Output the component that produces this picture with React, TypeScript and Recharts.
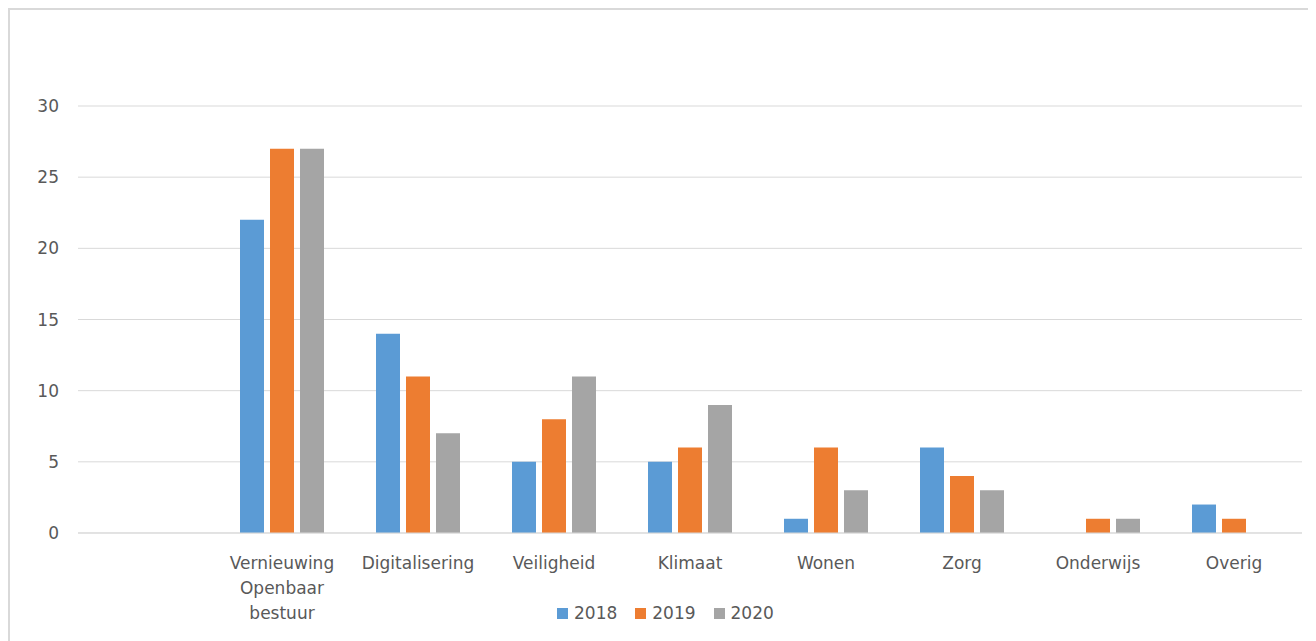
import React from 'react'
import { BarChart, Bar, XAxis, YAxis, CartesianGrid, Legend } from 'recharts'

const categories = ['', 'Vernieuwing Openbaar bestuur', 'Digitalisering', 'Veiligheid', 'Klimaat', 'Wonen', 'Zorg', 'Onderwijs', 'Overig']
const values2018 = [null, 22, 14, 5, 5, 1, 6, null, 2]
const values2019 = [null, 27, 11, 8, 6, 6, 4, 1, 1]
const values2020 = [null, 27, 7, 11, 9, 3, 3, 1, null]
const yTicks = [0, 5, 10, 15, 20, 25, 30]

const series = [
  { key: '2018', values: values2018, color: '#5b9bd5' },
  { key: '2019', values: values2019, color: '#ed7d31' },
  { key: '2020', values: values2020, color: '#a5a5a5' },
]

const chartData = categories.map((name, i) => {
  const row: any = { name }
  series.forEach(s => { row[s.key] = s.values[i] })
  return row
})

const FONT = '"DejaVu Sans", Verdana, sans-serif'
const TEXT = '#595959'

function CategoryTick(props: any) {
  const { x, y, payload } = props
  const lines = String(payload.value).split(' ')
  return (
    <text x={x} y={y} textAnchor="middle" fill={TEXT} fontSize={17} fontFamily={FONT}>
      {lines.map((line, i) => (
        <tspan key={i} x={x} dy={i === 0 ? 28 : 25}>{line}</tspan>
      ))}
    </text>
  )
}

function LegendContent(props: any) {
  const items = props.payload || []
  return (
    <div style={{ display: 'flex', alignItems: 'center', fontFamily: FONT, fontSize: 17, color: TEXT, lineHeight: '20px' }}>
      {items.map((item: any, i: number) => (
        <div key={i} style={{ display: 'flex', alignItems: 'center', marginRight: 18 }}>
          <span style={{ display: 'inline-block', width: 11, height: 11, background: item.color, marginRight: 6 }} />
          <span>{item.value}</span>
        </div>
      ))}
    </div>
  )
}

export default function App() {
  return (
    <div style={{ position: 'relative', margin: '-8px 0 0 -8px', width: 1316, height: 641, overflow: 'hidden' }}>
      {/* titel valt deels buiten beeld, net als in het origineel */}
      <div style={{ position: 'absolute', left: 10, top: -14, fontFamily: FONT, fontWeight: 'bold', fontSize: 23, lineHeight: '23px', color: '#000', whiteSpace: 'nowrap' }}>
        Grafiek: spreiding in thema's
      </div>
      <div style={{ position: 'absolute', left: 8, top: 8, width: 1305, height: 660, border: '2px solid #d9d9d9', boxSizing: 'border-box', background: '#fff' }} />
      <div style={{ position: 'absolute', left: 8, top: 8 }}>
        <BarChart width={1300} height={633} data={chartData} margin={{ top: 98, right: 6, left: 0, bottom: 48 }} barCategoryGap={26} barGap={6}>
          <CartesianGrid vertical={false} stroke="#d9d9d9" />
          <XAxis dataKey="name" axisLine={{ stroke: '#d9d9d9' }} tickLine={false} interval={0} height={60} tick={<CategoryTick />} />
          <YAxis domain={[0, 30]} ticks={yTicks} axisLine={false} tickLine={false} width={70} tickMargin={13} tick={{ fill: TEXT, fontSize: 17, fontFamily: FONT }} />
          <Legend layout="horizontal" verticalAlign="middle" align="center" content={<LegendContent />} wrapperStyle={{ top: 595, left: 549, width: 'auto' }} />
          {series.map(s => (
            <Bar key={s.key} dataKey={s.key} name={s.key} fill={s.color} isAnimationActive={false} />
          ))}
        </BarChart>
      </div>
    </div>
  )
}
